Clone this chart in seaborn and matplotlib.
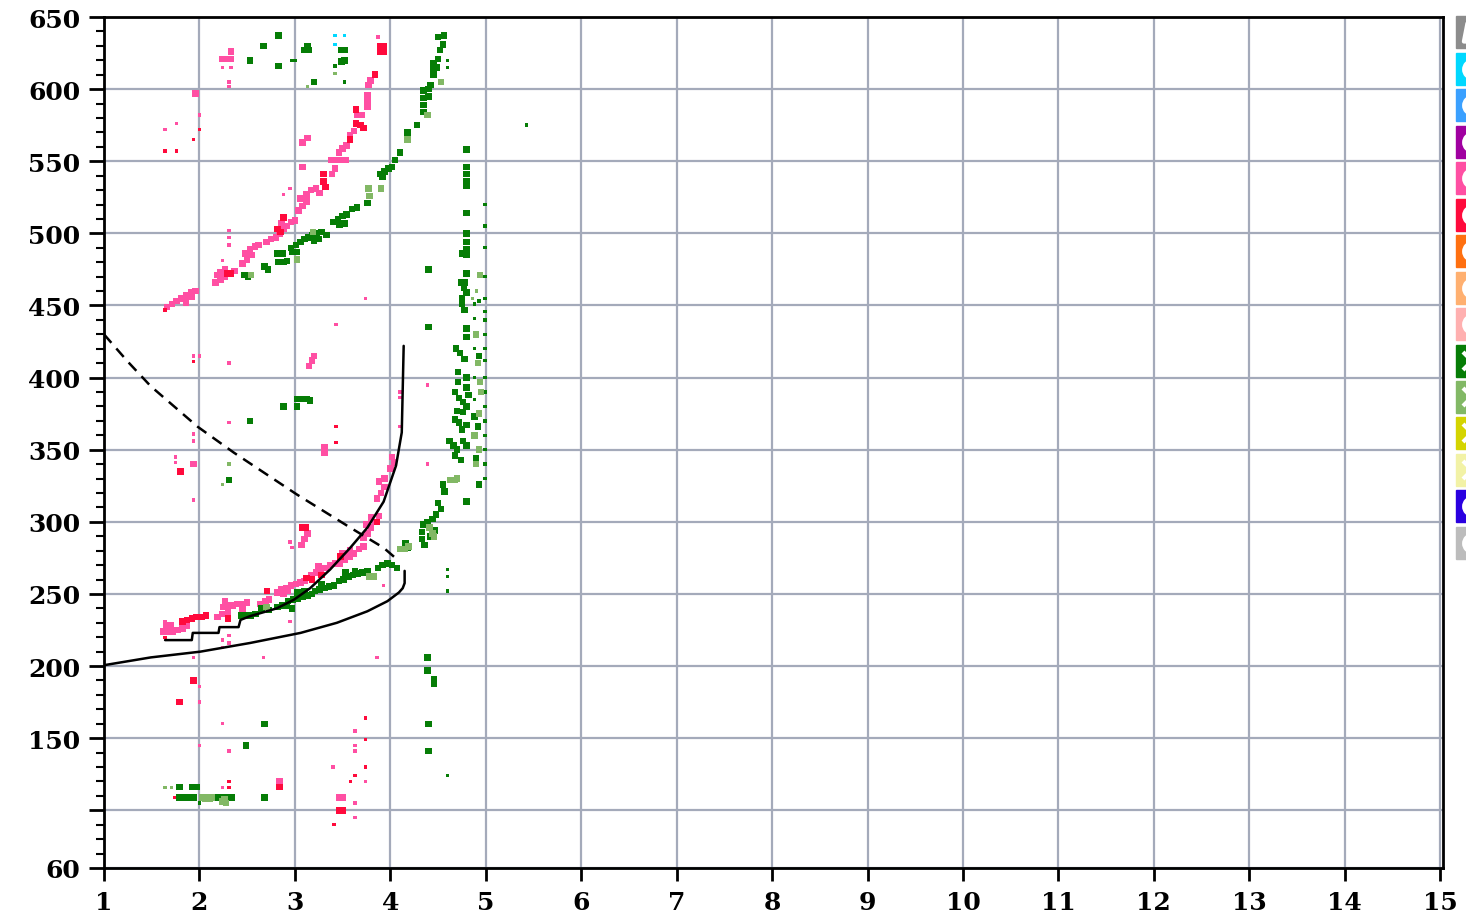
import pandas as pd
import matplotlib
matplotlib.use('Agg')
import matplotlib.pyplot as plt
from matplotlib.lines import Line2D
from matplotlib.legend_handler import HandlerTuple
from matplotlib.ticker import MultipleLocator
import seaborn as sns

sns.set_theme(style='white')
plt.rcParams['font.family'] = ['DejaVu Serif', 'DejaVu Sans']

# ---- points (x, y) ----
pink_big = [
    (1.66, 449), (1.71, 451), (1.76, 453), (1.81, 455), (1.86, 457), (1.91, 459), (1.96, 460), (1.86, 452), (1.92, 456),
    (2.17, 466), (2.22, 468), (2.27, 470), (2.32, 472), (2.37, 474), (2.22, 473), (2.27, 475), (2.19, 471),
    (2.45, 479), (2.50, 482), (2.55, 485), (2.48, 486), (2.53, 489), (2.58, 491), (2.62, 492),
    (2.70, 494), (2.75, 496), (2.80, 497), (2.84, 500), (2.88, 503), (2.92, 505), (2.96, 508), (3.00, 509), (2.86, 507),
    (3.04, 516), (3.08, 519), (3.12, 522), (3.06, 524), (3.12, 527), (3.17, 530), (3.22, 531), (3.26, 528),
    (3.39, 541), (3.42, 545), (3.38, 551), (3.43, 551), (3.48, 551), (3.53, 551), (3.46, 556), (3.50, 559), (3.54, 561),
    (3.58, 568), (3.62, 571), (3.65, 582), (3.70, 582), (3.76, 588), (3.76, 592), (3.76, 596), (3.77, 603), (3.79, 606),
    (2.24, 621), (2.29, 621), (2.33, 621), (2.33, 626), (2.67, 630), (1.96, 597), (3.08, 563), (3.13, 566), (3.08, 546),
    (1.62, 224), (1.67, 224), (1.72, 224), (1.77, 225), (1.82, 226), (1.87, 228), (1.65, 228), (1.70, 228),
    (2.19, 234), (2.24, 236), (2.30, 237), (2.25, 241), (2.30, 242), (2.35, 242), (2.40, 243), (2.45, 243),
    (2.50, 244), (2.27, 245), (2.45, 240),
    (2.64, 243), (2.69, 245), (2.73, 246),
    (2.82, 251), (2.86, 253), (2.91, 254), (2.96, 256), (3.01, 257), (3.06, 258), (2.88, 250), (2.93, 252), (3.10, 259),
    (3.17, 263), (3.22, 265), (3.27, 267), (3.32, 268), (3.37, 270), (3.42, 271), (3.25, 269),
    (3.47, 271), (3.52, 274), (3.57, 276), (3.62, 278), (3.67, 281), (3.72, 283), (3.50, 278), (3.58, 280),
    (3.72, 289), (3.76, 292), (3.80, 296), (3.84, 300), (3.88, 304), (3.75, 298), (3.80, 303),
    (3.86, 316), (3.90, 320), (3.94, 324), (3.88, 328), (3.94, 330),
    (4.00, 337), (4.04, 341), (4.02, 345),
    (3.07, 284), (3.10, 288), (3.13, 292), (3.08, 296),
    (3.15, 408), (3.18, 412), (3.20, 415), (3.31, 352), (3.31, 348), (1.94, 340), (2.84, 120),
    (3.47, 109), (3.50, 109),
]
red_big = [
    (1.82, 231), (1.87, 232), (1.92, 233), (1.97, 234), (2.02, 234), (2.07, 235), (2.30, 233),
    (2.33, 472), (2.29, 472), (2.82, 503), (2.85, 501), (2.88, 511), (3.30, 541), (3.30, 536), (3.32, 532),
    (3.58, 565), (3.64, 576), (3.69, 575), (3.72, 573), (3.64, 586), (3.84, 610),
    (3.89, 630), (3.93, 630), (3.89, 626), (3.93, 626),
    (2.71, 252), (3.12, 261), (3.18, 260), (3.28, 263), (3.48, 276), (3.86, 300), (3.08, 296), (3.11, 296),
    (1.80, 335), (1.79, 175), (1.94, 190), (2.84, 116), (3.47, 100), (3.50, 100),
]
pink_small = [
    (2.31, 605), (2.31, 602), (2.24, 615), (2.33, 615), (1.64, 572), (1.76, 576), (2.00, 582), (3.87, 636),
    (2.95, 531), (2.88, 527), (2.31, 502), (2.31, 497), (2.31, 492), (2.24, 481), (3.74, 455), (3.43, 437),
    (2.31, 410), (2.31, 369), (1.94, 361), (1.94, 356), (1.94, 315), (1.75, 345), (1.75, 341), (1.94, 415),
    (2.00, 415), (2.95, 286), (2.97, 282), (3.93, 256), (2.95, 231), (2.67, 206), (3.86, 206), (1.94, 206),
    (2.00, 186), (2.00, 175), (2.00, 145), (2.24, 160), (2.31, 141), (2.24, 116), (2.24, 218), (2.24, 213),
    (2.31, 221), (2.31, 216), (3.40, 130), (3.63, 155), (3.63, 145), (3.63, 141), (3.74, 120), (3.63, 105),
    (3.63, 95), (4.39, 395), (4.39, 340), (4.10, 390), (4.10, 386), (4.10, 366), (1.64, 231),
]
red_small = [
    (1.64, 447), (1.64, 557), (1.76, 557), (2.00, 572), (1.94, 565), (3.43, 366), (3.43, 355), (1.94, 411),
    (2.31, 120), (2.31, 116), (3.41, 90), (3.74, 164), (3.74, 149), (3.74, 130), (3.63, 124), (3.58, 120),
    (1.74, 109), (1.64, 220),
]
green_big = [
    (2.47, 471), (2.51, 470), (2.68, 477), (2.72, 475),
    (2.82, 486), (2.87, 486), (2.83, 480), (2.88, 480), (2.92, 481),
    (2.96, 490), (3.01, 492), (3.06, 494), (3.10, 496), (3.14, 497), (2.97, 487), (3.02, 487),
    (3.18, 499), (3.23, 500), (3.28, 501), (3.33, 499), (3.20, 495), (3.25, 496),
    (3.40, 508), (3.45, 510), (3.50, 512), (3.54, 513), (3.47, 506), (3.52, 507),
    (3.60, 517), (3.65, 518), (3.76, 521), (3.89, 541), (3.94, 543), (3.98, 545), (4.02, 546), (3.92, 539),
    (4.05, 551), (4.10, 556), (4.18, 570), (4.28, 575),
    (4.35, 584), (4.35, 589), (4.35, 594), (4.35, 599), (4.40, 600), (4.40, 595), (4.42, 603),
    (4.45, 610), (4.45, 614), (4.45, 618), (4.49, 615), (4.50, 621), (4.52, 627), (4.55, 631), (4.50, 636), (4.56, 637),
    (2.83, 637), (2.67, 630), (2.53, 620), (2.83, 616), (3.10, 627), (3.15, 627), (3.13, 630), (3.20, 605),
    (3.49, 627), (3.52, 627), (3.49, 619), (3.52, 620),
    (4.80, 558), (4.80, 546), (4.80, 541), (4.80, 536), (4.80, 533), (4.80, 514), (4.80, 500), (4.80, 494),
    (4.80, 489), (4.75, 486), (4.80, 485), (4.40, 475), (4.80, 472), (4.74, 466), (4.78, 466), (4.77, 462),
    (4.80, 459), (4.75, 455), (4.75, 451), (4.78, 447), (4.80, 434), (4.80, 428), (4.69, 420), (4.73, 417),
    (4.78, 413), (4.93, 415), (4.71, 404), (4.80, 400), (4.71, 397), (4.80, 393), (4.68, 390), (4.72, 386),
    (4.76, 383), (4.80, 380), (4.70, 377), (4.76, 376), (4.82, 388), (4.68, 371), (4.72, 369), (4.80, 367),
    (4.75, 364), (4.62, 356), (4.66, 353), (4.70, 350), (4.76, 356), (4.80, 353), (4.68, 346), (4.74, 343),
    (4.88, 373), (4.92, 366), (4.90, 344), (4.93, 326), (4.80, 314), (4.40, 435),
    (4.55, 326), (4.57, 321), (4.50, 313), (4.53, 309), (4.48, 305), (4.44, 302), (4.39, 300), (4.34, 298),
    (4.33, 293), (4.33, 288), (4.36, 284), (4.47, 294), (4.42, 290), (4.16, 285), (4.18, 282),
    (4.07, 268), (4.02, 270), (3.97, 271), (3.92, 270), (3.87, 268),
    (3.46, 259), (3.51, 260), (3.56, 262), (3.61, 263), (3.66, 264), (3.71, 265), (3.76, 266), (3.53, 265), (3.63, 266),
    (3.21, 252), (3.26, 253), (3.31, 254), (3.36, 255), (3.41, 256), (3.28, 257),
    (2.93, 245), (2.98, 246), (3.03, 247), (3.08, 248), (3.13, 249), (3.18, 250), (3.03, 251), (3.10, 252),
    (2.82, 241), (2.87, 242), (2.92, 242), (2.97, 240),
    (2.65, 240), (2.70, 241), (2.73, 239),
    (2.44, 235), (2.49, 235), (2.54, 235), (2.59, 236),
    (3.02, 385), (3.07, 385), (3.12, 385), (3.16, 384), (2.88, 380), (3.02, 380), (2.53, 370), (2.31, 329),
    (4.39, 206), (4.39, 197), (4.46, 191), (4.46, 188), (4.40, 160), (4.40, 141),
    (1.79, 116), (1.92, 116), (1.97, 116), (1.79, 109), (1.84, 109), (1.89, 109), (1.94, 109),
    (2.19, 109), (2.24, 109), (2.29, 109), (2.34, 109), (2.68, 109), (2.68, 160), (2.49, 145),
]
green_small = [
    (4.99, 520), (4.99, 505), (4.99, 490), (4.99, 470), (4.99, 455), (4.99, 446), (4.99, 440), (4.99, 430),
    (4.99, 420), (4.99, 412), (4.99, 400), (4.99, 390), (4.99, 380), (4.99, 370), (4.99, 360), (4.99, 350),
    (4.99, 340), (4.99, 330), (4.88, 451), (4.88, 441), (4.88, 420), (4.88, 400), (4.88, 385), (4.93, 453),
    (4.60, 267), (4.60, 262), (4.60, 252), (4.60, 124), (5.43, 575), (2.97, 620), (3.00, 620), (3.42, 616),
    (3.52, 605), (2.00, 105), (4.60, 620), (4.60, 615),
]
lightgreen_big = [
    (2.54, 471), (3.02, 482), (3.19, 501), (3.77, 531), (3.78, 526), (3.90, 531), (4.18, 565), (4.39, 582),
    (4.53, 605), (4.63, 329), (4.67, 329), (4.70, 330), (4.41, 296), (4.44, 292), (4.46, 290),
    (4.10, 281), (4.15, 281), (4.19, 283), (3.78, 262), (3.83, 262), (2.70, 241),
    (2.03, 109), (2.08, 109), (2.13, 109), (2.11, 108), (2.06, 108), (2.24, 106), (2.28, 105), (2.26, 108),
    (4.94, 471), (4.94, 397), (4.90, 430), (4.92, 410), (4.93, 375), (4.88, 360), (4.93, 350), (4.90, 340), (4.95, 390),
]
lightgreen_small = [
    (1.64, 116), (1.71, 116), (3.13, 602), (3.42, 611), (2.24, 326), (2.31, 340), (4.86, 455), (4.90, 460), (4.95, 470),
]
cyan_small = [(3.42, 637), (3.52, 637), (3.42, 631)]

# ---- black reference curves ----
upper_curve_x = [1.64, 1.92, 1.93, 2.20, 2.21, 2.41, 2.43, 2.53, 2.81, 2.99, 3.16, 3.37, 3.58, 3.76, 3.93, 4.06, 4.12, 4.14]
upper_curve_y = [218, 218, 223, 223, 227, 227, 232, 234.6, 240, 246, 254, 267, 282, 296, 314, 339, 362, 422]
lower_curve_x = [1.0, 1.49, 2.01, 2.53, 3.06, 3.44, 3.76, 3.97, 4.09, 4.13, 4.15, 4.15]
lower_curve_y = [200.6, 206, 210, 216, 223, 230, 238, 245, 251, 254, 257.5, 266]
dashed_x = [1.0, 1.25, 1.49, 1.98, 2.36, 3.02, 3.58, 3.93, 4.07]
dashed_y = [430, 411, 394, 366, 348, 319, 296, 282, 274]

# ---- legend entries (only the swatches show; the chart is cropped at the right) ----
legend_colors = ['#8c8c8c', '#00d8ff', '#3aa0ff', '#a000a0', '#ff4fa3', '#ff0a3c', '#ff7010', '#ffb070',
                 '#ffb0b0', '#067d06', '#82b865', '#d4d400', '#f2f2a6', '#2a00e0', '#bcbcbc']
legend_glyphs = ['$N$', 'o', 'o', 'o', 'o', 'o', 'o', 'o', 'o', 'x', 'x', 'x', 'x', 'o', 'o']

palette = {'pink': '#ff4fa3', 'red': '#ff0a3c', 'green': '#067d06',
           'lightgreen': '#82b865', 'cyan': '#00d8ff'}

groups = [('pink', 'big', pink_big), ('red', 'big', red_big), ('pink', 'small', pink_small),
          ('red', 'small', red_small), ('green', 'big', green_big), ('green', 'small', green_small),
          ('lightgreen', 'big', lightgreen_big), ('lightgreen', 'small', lightgreen_small),
          ('cyan', 'small', cyan_small)]
rows = []
for name, sz, pts in groups:
    for x, y in pts:
        rows.append((x, y, name, sz))
df = pd.DataFrame(rows, columns=['x', 'y', 'series', 'size'])

fig = plt.figure(figsize=(14.66, 9.2), dpi=100)
ax = fig.add_axes([104 / 1466, 1 - 869 / 920, (1443 - 104) / 1466, (869 - 18) / 920])

sns.scatterplot(data=df, x='x', y='y', hue='series', size='size', sizes={'big': 22, 'small': 6},
                palette=palette, marker='s', linewidth=0, legend=False, ax=ax, zorder=3)

sns.lineplot(x=upper_curve_x, y=upper_curve_y, sort=False, estimator=None, color='black', lw=1.8, ax=ax, zorder=4)
sns.lineplot(x=lower_curve_x, y=lower_curve_y, sort=False, estimator=None, color='black', lw=1.8, ax=ax, zorder=4)
ax.plot(dashed_x, dashed_y, color='black', lw=1.8, ls=(0, (4.5, 3)), zorder=4)

ax.set_xlim(1, 15.03)
ax.set_ylim(60, 650)
ax.set_xticks(range(1, 16))
yt = [60, 100] + list(range(150, 651, 50))
ax.set_yticks(yt)
ax.set_yticklabels(['' if v == 100 else str(v) for v in yt])
ax.yaxis.set_minor_locator(MultipleLocator(10))
ax.set_xlabel('')
ax.set_ylabel('')

ax.grid(True, which='major', color='#a4aaba', lw=1.6)
ax.set_axisbelow(True)
ax.tick_params(axis='both', which='major', direction='out', width=2, color='black',
               labelsize=18, labelcolor='black', bottom=True, left=True)
ax.tick_params(axis='y', which='major', length=11, pad=6)
ax.tick_params(axis='x', which='major', length=9, pad=7)
ax.tick_params(axis='y', which='minor', length=6, width=1.5, left=True, color='black')
for lbl in ax.get_xticklabels() + ax.get_yticklabels():
    lbl.set_fontweight('bold')
for sp in ax.spines.values():
    sp.set_visible(True)
    sp.set_color('black')
    sp.set_linewidth(2)

handles = []
for c, g in zip(legend_colors, legend_glyphs):
    sq = Line2D([], [], ls='', marker='s', markersize=23, markerfacecolor=c, markeredgecolor=c)
    if g == 'o':
        gl = Line2D([], [], ls='', marker='o', markersize=12, markerfacecolor='none',
                    markeredgecolor='white', markeredgewidth=3)
    else:
        gl = Line2D([], [], ls='', marker=g, markersize=13, color='white', markeredgewidth=3)
    handles.append((sq, gl))
fig.legend(handles, [''] * len(handles), loc='upper left', bbox_to_anchor=(1456 / 1466, 1 - 25 / 920),
           frameon=False, borderpad=0, borderaxespad=0, fontsize=14, handlelength=1.65,
           handleheight=1.2, labelspacing=0.82, handletextpad=0.5,
           handler_map={tuple: HandlerTuple(ndivide=1, pad=0)})

fig.savefig('out.png', dpi=100)
